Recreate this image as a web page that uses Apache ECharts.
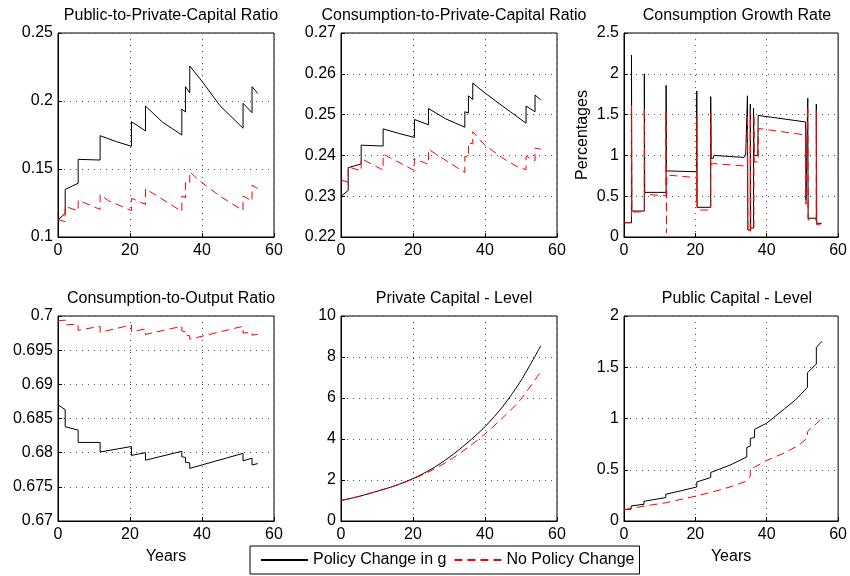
<!DOCTYPE html>
<html>
<head>
<meta charset="utf-8">
<script src="https://cdn.jsdelivr.net/npm/echarts@6/dist/echarts.min.js"></script>
<style>
html,body{margin:0;padding:0;background:#fff;}
#chart{width:850px;height:576px;}
</style>
</head>
<body>
<div id="chart"></div>
<script>
// ---------- DATA ----------
const seriesNames = ["Policy Change in g", "No Policy Change"];
const panelTitles = ["Public-to-Private-Capital Ratio", "Consumption-to-Private-Capital Ratio", "Consumption Growth Rate",
                     "Consumption-to-Output Ratio", "Private Capital - Level", "Public Capital - Level"];
const xTicks = [0, 20, 40, 60];

// Panel 1: Public-to-Private-Capital Ratio
const p1PolicyX = [0,2.0,2.0,5.6,5.6,11.7,11.7,16,20.4,20.4,24.3,24.3,29,34.4,34.4,35.4,35.4,36.6,36.6,40,45,51.4,51.4,53.9,53.9,55.5];
const p1PolicyY = [0.1125,0.1174,0.1350,0.1395,0.1571,0.1566,0.1745,0.1703,0.1667,0.1848,0.1780,0.1963,0.1845,0.1750,0.1940,0.1920,0.2105,0.2060,0.2257,0.2145,0.1965,0.1800,0.1983,0.1914,0.2105,0.2055];
const p1NoX = [0,2.0,2.0,5.6,5.6,11.7,11.7,14,20.4,20.4,24.3,24.3,34.4,34.4,35.4,35.4,36.6,36.6,38,40,45,51.4,51.4,53.9,53.9,55.5];
const p1NoY = [0.1130,0.1112,0.1225,0.1192,0.1270,0.1203,0.1312,0.1267,0.1195,0.1285,0.1240,0.1355,0.1188,0.1300,0.1290,0.1400,0.1390,0.1482,0.1444,0.1400,0.1300,0.1195,0.1302,0.1265,0.1382,0.1355];

// Panel 2: Consumption-to-Private-Capital Ratio
const p2PolicyX = [0,2.0,2.0,5.6,5.6,11.7,11.7,16,20.4,20.4,24.3,24.3,29,34.4,34.4,35.4,35.4,36.6,36.6,40,45,51.4,51.4,53.9,53.9,55.5];
const p2PolicyY = [0.2300,0.2314,0.2370,0.2379,0.2425,0.2423,0.2465,0.2454,0.2444,0.2488,0.2475,0.2515,0.2490,0.2469,0.2507,0.2504,0.2546,0.2537,0.2577,0.2553,0.2520,0.2479,0.2521,0.2507,0.2548,0.2536];
const p2NoX = [0,2.0,2.0,5.6,5.6,11.7,11.7,20.4,20.4,24.3,24.3,34.4,34.4,35.4,35.4,36.6,36.6,40,45,49,51.4,51.4,53.9,53.9,55.5];
const p2NoY = [0.2340,0.2334,0.2372,0.2362,0.2392,0.2364,0.2403,0.2363,0.2392,0.2378,0.2415,0.2358,0.2398,0.2395,0.2432,0.2428,0.2458,0.2425,0.2393,0.2372,0.2365,0.2398,0.2387,0.2418,0.2415];

// Panel 3: Consumption Growth Rate (percentages)
const p3PolicyX = [0,2.1,2.1,2.2,5.7,5.7,5.8,11.8,11.8,11.9,20.3,20.4,20.5,24.3,24.3,24.4,25.0,25.2,33.6,34.1,34.6,34.6,34.7,35.4,35.4,35.5,36.3,36.3,36.4,37.5,37.6,50.9,51.0,51.5,51.5,51.6,53.9,53.9,54.0,55.4];
const p3PolicyY = [0.175,0.175,2.23,0.318,0.318,2.00,0.547,0.547,1.86,0.81,0.80,1.79,0.364,0.364,1.72,0.965,0.965,1.0,0.975,1.0,1.0,1.73,0.086,0.086,1.63,0.11,0.11,1.58,1.0,1.0,1.49,1.41,0.45,0.45,1.70,0.23,0.23,1.63,0.168,0.168];
const p3NoX = [0,2.1,2.1,2.2,5.7,5.7,5.8,11.8,11.8,11.9,12.0,20.3,20.3,20.4,20.5,24.3,24.3,24.4,25.2,33.9,34.6,34.6,34.7,35.4,35.4,35.5,36.4,36.4,36.5,37.6,37.7,50.9,51.0,51.5,51.5,51.6,53.9,53.9,54.0,55.4];
const p3NoY = [0.175,0.175,1.62,0.305,0.31,1.59,0.523,0.505,1.56,0.05,0.76,0.727,0.43,1.48,0.33,0.33,1.51,0.89,0.90,0.87,0.87,1.50,0.07,0.07,1.55,0.08,0.08,1.50,0.92,0.92,1.33,1.25,0.40,0.40,1.60,0.21,0.21,1.55,0.15,0.15];

// Panel 4: Consumption-to-Output Ratio
const p4PolicyX = [0,2.0,2.0,5.6,5.6,11.7,11.7,20.4,20.4,24.3,24.3,34.4,34.4,35.4,35.4,36.6,36.6,51.4,51.4,53.9,53.9,55.5];
const p4PolicyY = [0.6870,0.6863,0.6838,0.6833,0.6815,0.6815,0.6801,0.6809,0.6796,0.6800,0.6789,0.6802,0.6794,0.6793,0.6786,0.6785,0.6777,0.6799,0.6788,0.6792,0.6782,0.6784];
const p4NoX = [0,2.0,2.0,5.6,5.6,11.7,11.7,20.4,20.4,24.3,24.3,34.4,34.4,35.4,35.4,36.6,36.6,51.4,51.4,53.9,53.9,55.5];
const p4NoY = [0.6993,0.6994,0.6987,0.6988,0.6979,0.6985,0.6976,0.6987,0.6977,0.6981,0.6973,0.6985,0.6978,0.6977,0.6972,0.6971,0.6966,0.6985,0.6975,0.6976,0.6972,0.6973];

// Panel 5: Private Capital - Level
const p5PolicyX = [0,5,10,15,20,25,30,35,40,45,50,55.5];
const p5PolicyY = [1.0,1.2,1.45,1.72,2.07,2.52,3.1,3.8,4.6,5.6,6.85,8.55];
const p5NoX = [0,5,10,15,20,25,30,35,40,45,50,55.5];
const p5NoY = [1.0,1.2,1.45,1.72,2.05,2.45,2.95,3.55,4.25,5.05,5.95,7.3];

// Panel 6: Public Capital - Level
const p6PolicyX = [0,2.0,2.0,5.6,5.6,11.7,11.7,16,20.4,20.4,24.3,24.3,30,34.4,34.4,35.4,35.4,36.6,36.6,40,45,48,51.4,51.4,53.9,53.9,55.5];
const p6PolicyY = [0.111,0.116,0.147,0.163,0.192,0.229,0.261,0.295,0.332,0.381,0.424,0.473,0.55,0.625,0.717,0.730,0.805,0.815,0.894,0.955,1.095,1.18,1.303,1.446,1.531,1.694,1.755];
const p6NoX = [0,2.0,2.0,5.6,5.6,11.7,11.7,20.4,20.4,24.3,24.3,30,34.4,35.4,35.4,36.6,40,45,49,51.4,51.4,53.9,55.5];
const p6NoY = [0.111,0.122,0.128,0.145,0.152,0.178,0.185,0.245,0.252,0.278,0.285,0.335,0.39,0.44,0.51,0.525,0.59,0.665,0.74,0.81,0.87,0.95,1.0];

// y-axis ranges per panel
const yMins = [0.1, 0.22, 0, 0.67, 0, 0];
const yMaxs = [0.25, 0.27, 2.5, 0.70, 10, 2];
const yIntervals = [0.05, 0.01, 0.5, 0.005, 2, 0.5];

// ---------- CHART ----------
const FONT = "'Liberation Sans', Arial, Helvetica, sans-serif";
const gridsPos = [
  {left:58, top:33, width:216, height:204},
  {left:341, top:33, width:216, height:204},
  {left:624, top:33, width:216, height:204},
  {left:58, top:316, width:216, height:205},
  {left:341, top:316, width:216, height:205},
  {left:624, top:316, width:216, height:205}
];
const policyX = [p1PolicyX,p2PolicyX,p3PolicyX,p4PolicyX,p5PolicyX,p6PolicyX];
const policyY = [p1PolicyY,p2PolicyY,p3PolicyY,p4PolicyY,p5PolicyY,p6PolicyY];
const noX = [p1NoX,p2NoX,p3NoX,p4NoX,p5NoX,p6NoX];
const noY = [p1NoY,p2NoY,p3NoY,p4NoY,p5NoY,p6NoY];
const zip = (xs, ys) => xs.map((x, i) => [x, ys[i]]);
const gridLine = {show:true, lineStyle:{color:'#555', width:1, type:[1,5]}};

const grids = [], xAxes = [], yAxes = [], series = [], titles = [];
gridsPos.forEach((g, i) => {
  grids.push(Object.assign({show:true, borderColor:'#000', borderWidth:1, backgroundColor:'#fff'}, g));
  titles.push({
    text: panelTitles[i], left: g.left + g.width/2, top: g.top - 30, textAlign:'center',
    textStyle:{fontFamily:FONT, fontSize:16, fontWeight:'normal', color:'#000'}
  });
  xAxes.push({
    type:'value', gridIndex:i, min:xTicks[0], max:xTicks[xTicks.length-1], interval:20,
    axisLine:{show:true, lineStyle:{color:'#000', width:1}},
    axisTick:{show:true, inside:true, length:4, lineStyle:{color:'#000'}},
    axisLabel:{fontFamily:FONT, fontSize:16, color:'#000', margin:6},
    splitLine:gridLine,
    name: (i === 3 || i === 5) ? 'Years' : '',
    nameLocation:'middle', nameGap:28,
    nameTextStyle:{fontFamily:FONT, fontSize:16, color:'#000'}
  });
  yAxes.push({
    type:'value', gridIndex:i, min:yMins[i], max:yMaxs[i], interval:yIntervals[i],
    axisLine:{show:true, lineStyle:{color:'#000', width:1}},
    axisTick:{show:true, inside:true, length:4, lineStyle:{color:'#000'}},
    axisLabel:{fontFamily:FONT, fontSize:16, color:'#000', margin:5,
      formatter: v => String(+v.toFixed(4))},
    splitLine:gridLine,
    name: i === 2 ? 'Percentages' : '',
    nameLocation:'middle', nameGap:33,
    nameTextStyle:{fontFamily:FONT, fontSize:16, color:'#000'}
  });
  series.push({
    name: seriesNames[0], type:'line', xAxisIndex:i, yAxisIndex:i,
    data: zip(policyX[i], policyY[i]), symbol:'none', smooth: i === 4 ? 0.3 : false,
    lineStyle:{color:'#000', width:1}, itemStyle:{color:'#000'}, z:3
  });
  series.push({
    name: seriesNames[1], type:'line', xAxisIndex:i, yAxisIndex:i,
    data: zip(noX[i], noY[i]), symbol:'none', smooth: i === 4 ? 0.3 : false,
    lineStyle:{color:'#ff0000', width:1, type:[8,5]}, itemStyle:{color:'#ff0000'}, z:4
  });
});

const chart = echarts.init(document.getElementById('chart'), null, {renderer:'canvas'});
chart.setOption({
  animation:false,
  backgroundColor:'#fff',
  title: titles,
  grid: grids,
  xAxis: xAxes,
  yAxis: yAxes,
  series: series,
  legend: {
    data: seriesNames, left:250, top:546, orient:'horizontal',
    padding:[6,5,6,10], itemGap:7, itemWidth:47, itemHeight:16,
    borderColor:'#000', borderWidth:1, backgroundColor:'#fff',
    itemStyle:{opacity:0, borderWidth:0},
    textStyle:{fontFamily:FONT, fontSize:16, color:'#000'}
  }
});
</script>
</body>
</html>
